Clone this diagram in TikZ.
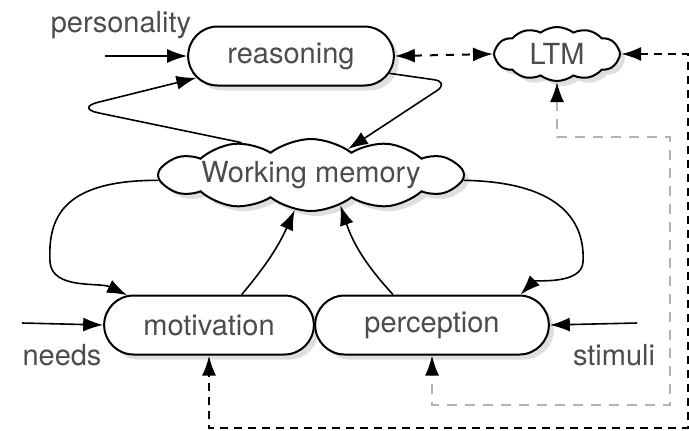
\documentclass[tikz,border=0pt]{standalone}
\usepackage{fontspec}
\setmainfont{TeX Gyre Heros}
\usetikzlibrary{arrows.meta}
\usetikzlibrary{shapes.misc,shapes.symbols}
\usetikzlibrary{shadows}
\tikzset{>={Latex[length=10pt,width=7pt]}}
\definecolor{txtgray}{gray}{0.3}

\begin{document}
\begin{tikzpicture}[x=.5pt, y=-.5pt,
    every node/.style={font=\fontsize{14.5}{17}\selectfont, text=txtgray},
    shady/.style={drop shadow={opacity=.25, shadow xshift=2.5pt, shadow yshift=-2.5pt}},
    pill/.style={rounded rectangle, draw, line width=1pt, fill=white, minimum height=29.5pt, shady},
    puff/.style={cloud, draw, line width=1pt, fill=white, cloud puffs=12, cloud puff arc=75, cloud ignores aspect, inner sep=0pt, shady},
    arr/.style={->, line width=.8pt},
    lbl/.style={inner sep=0pt},
    innerdash/.style={draw=gray!60, line width=1pt, dash pattern=on 5pt off 4pt, {Latex[length=10pt,width=7pt,black]}-{Latex[length=10pt,width=7pt,black]}},
    outerdash/.style={line width=1.3pt, dash pattern=on 4pt off 3pt, <->},
  ]
  \useasboundingbox (0,0) rectangle (689,430);
  % nodes
  \node[pill, minimum width=109.5pt] (rsn) at (291,56) {reasoning};
  \node[puff, minimum width=63pt, minimum height=27pt] (ltm) at (557,54) {LTM};
  \node[puff, minimum width=153pt, minimum height=36pt] (wm) at (311,175) {Working memory};
  \node[pill, minimum width=111.5pt] (mot) at (209,325) {motivation};
  \node[pill, minimum width=123.5pt] (per) at (432,325) {perception};
  % inputs
  \node[lbl] (pers) at (121,25) {personality};
  \node[lbl] (nds) at (62,355) {needs};
  \node[lbl] (stim) at (614,355) {stimuli};
  \coordinate (pin) at (105,56);
  \coordinate (nin) at (22,323);
  \coordinate (sin) at (637,323);
  \draw[arr] (pin) -- (rsn.west);
  \draw[arr] (nin) -- (mot.west);
  \draw[arr] (sin) -- (per.east);
  % loops
  \draw[arr, rounded corners=12pt] (wm.155) -- (75,108) -- (rsn.193);
  \draw[arr, rounded corners=8pt] (rsn.350) -- (450,82) -- (wm.35);
  \draw[arr] (wm.182) .. controls (60,180) and (48,220) .. (50,262)
    .. controls (52,290) and (100,282) .. (mot.160);
  \draw[arr] (wm.-2) .. controls (565,182) and (585,225) .. (583,262)
    .. controls (582,285) and (535,280) .. (per.19);
  \draw[arr] (mot.43) to[bend right=8] (wm.245);
  \draw[arr] (per.142) to[bend left=12] (wm.314);
  % memory links
  \draw[<->, line width=1pt, dash pattern=on 4pt off 4pt] (rsn.east) -- (ltm.west);
  \draw[outerdash] (ltm.east) -| (688,428) -| (mot.south);
  \draw[innerdash] (ltm.south) |- (670,137) -- (670,405) -| (per.south);
\end{tikzpicture}
\end{document}
